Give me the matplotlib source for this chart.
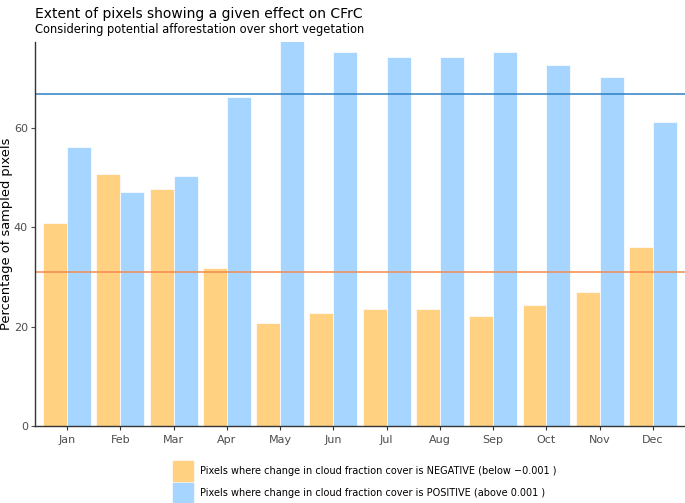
import matplotlib.pyplot as plt
import numpy as np

months = ['Jan', 'Feb', 'Mar', 'Apr', 'May', 'Jun', 'Jul', 'Aug', 'Sep', 'Oct', 'Nov', 'Dec']
negative = [40.9, 50.7, 47.7, 31.8, 20.7, 22.7, 23.6, 23.6, 22.1, 24.4, 27.0, 36.0]
positive = [56.2, 47.1, 50.3, 66.2, 77.5, 75.3, 74.3, 74.3, 75.3, 72.7, 70.3, 61.2]
neg_mean = 31.0
pos_mean = 66.8

neg_color = '#FFD180'
pos_color = '#A6D5FF'

fig = plt.figure(figsize=(6.85, 5.03), dpi=100)
ax = fig.add_axes([35 / 685, 1 - 426 / 503, 650 / 685, 384 / 503])

x = np.arange(len(months))
w = 0.45
ax.bar(x - w / 2, negative, width=w, color=neg_color, edgecolor='white', linewidth=0.5)
ax.bar(x + w / 2, positive, width=w, color=pos_color, edgecolor='white', linewidth=0.5)
ax.axhline(pos_mean, color='#2F80C4', linewidth=1.1)
ax.axhline(neg_mean, color='#F28A4E', linewidth=1.1)

ax.set_xlim(-0.6, 11.6)
ax.set_ylim(0, 77.3)
ax.set_xticks(x)
ax.set_xticklabels(months)
ax.set_yticks([0, 20, 40, 60])
ax.tick_params(colors='#4D4D4D', labelsize=8, length=3, width=0.8)
ax.tick_params(axis='y', pad=2)
ax.tick_params(axis='x', colors='#333333', labelcolor='#4D4D4D')
for s in ['top', 'right']:
    ax.spines[s].set_visible(False)
for s in ['left', 'bottom']:
    ax.spines[s].set_color('#333333')
    ax.spines[s].set_linewidth(1.0)
ax.set_ylabel('Percentage of sampled pixels', fontsize=9.4)
ax.yaxis.set_label_coords(-22 / 650, 0.5)

fig.text(35 / 685, 1 - 14 / 503, 'Extent of pixels showing a given effect on CFrC',
         fontsize=10, va='center', ha='left')
fig.text(35 / 685, 1 - 30 / 503, 'Considering potential afforestation over short vegetation',
         fontsize=8.3, va='center', ha='left')

# legend keys below the plot
fig.patches.append(plt.Rectangle((173 / 685, 1 - 481 / 503), 20 / 685, 20 / 503,
                                 color=neg_color, transform=fig.transFigure))
fig.patches.append(plt.Rectangle((173 / 685, 1 - 503 / 503), 20 / 685, 20 / 503,
                                 color=pos_color, transform=fig.transFigure))
fig.text(200 / 685, 1 - 471 / 503, 'Pixels where change in cloud fraction cover is NEGATIVE (below \u22120.001 )',
         fontsize=7.0, va='center', ha='left')
fig.text(200 / 685, 1 - 493 / 503, 'Pixels where change in cloud fraction cover is POSITIVE (above 0.001 )',
         fontsize=7.0, va='center', ha='left')

fig.savefig('out.png', dpi=100)
